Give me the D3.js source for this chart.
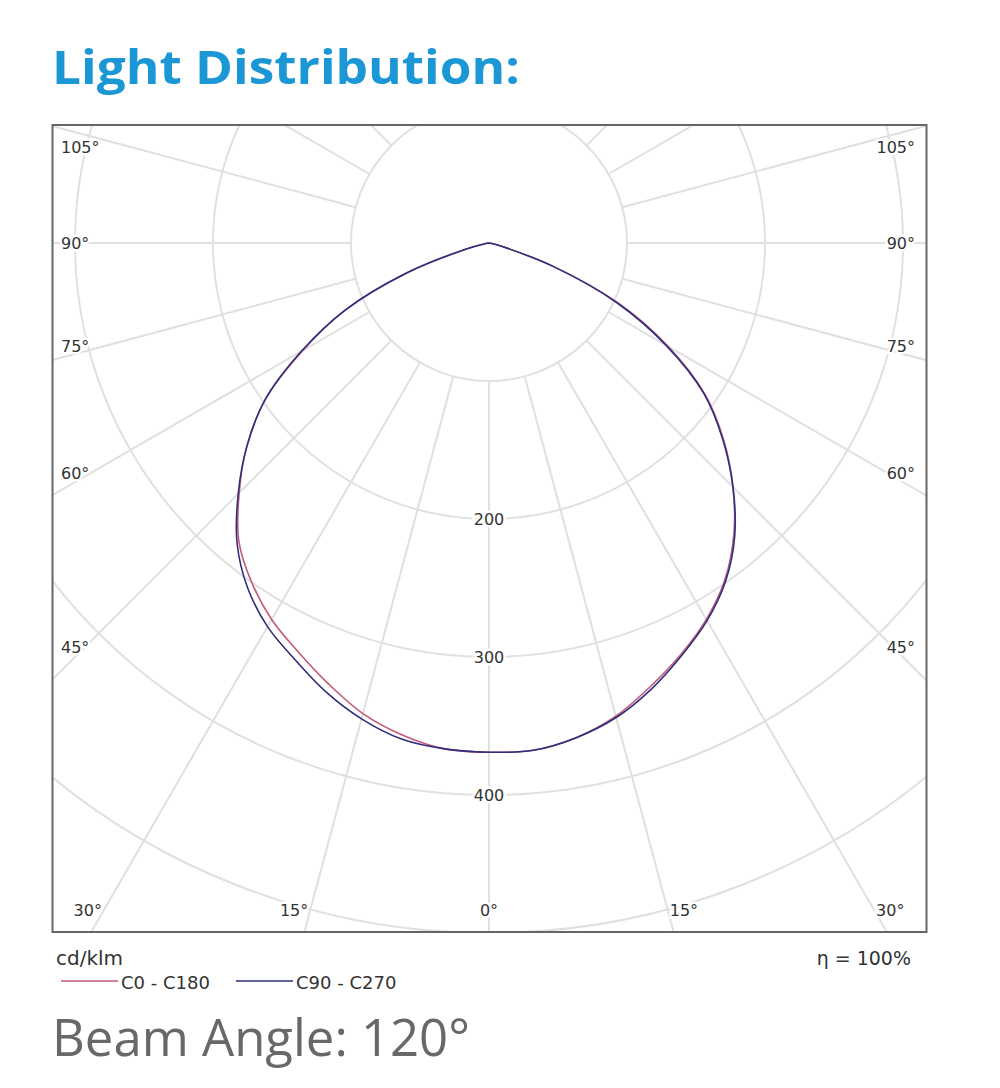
<!DOCTYPE html>
<html>
<head>
<meta charset="utf-8">
<script src="https://cdn.jsdelivr.net/npm/d3@7"></script>
<style>
  body { margin: 0; background: #fff; }
  svg { display: block; }
</style>
</head>
<body>
<svg id="chart" width="1000" height="1088"></svg>
<script>
// ---------------- DATA (cd/klm) ----------------
const gammaAngles = [0, 5, 10, 15, 20, 25, 30, 35, 40, 45, 50, 55, 60, 65, 70, 75, 80, 85, 90];
// C0 - C180 plane (C180 drawn on the left half, C0 on the right half)
const c180Values  = [369, 368, 362, 353, 340, 327, 315, 300, 282, 256, 229, 198, 156, 115, 63, 17, 3, 0, 0];
const c0Values    = [369, 369, 364, 355, 342, 329, 315, 298, 276, 250, 222, 191, 150, 104, 50, 10, 2, 0, 0];
// C90 - C270 plane (C270 drawn on the left half, C90 on the right half)
const c270Values  = [369, 368, 365, 357, 346, 333, 321, 305, 284, 257, 229, 198, 157, 115, 64, 18, 3, 0, 0];
const c90Values   = [369, 369, 364, 356, 344, 330, 316, 299, 277, 250, 221, 190, 148, 102, 49, 10, 2, 0, 0];

const seriesNames  = ["C0 - C180", "C90 - C270"];
const seriesColors = ["#c25a78", "#2e2f7e"];

const gridCircles   = [100, 200, 300, 400, 500, 600];
const radialLabels  = [200, 300, 400];
const gridAngles    = [0, 15, 30, 45, 60, 75, 90, 105, 120, 135, 150, 165, 180,
                       195, 210, 225, 240, 255, 270, 285, 300, 315, 330, 345];
const sideLabelAngles   = [45, 60, 75, 90, 105];
const bottomLabelAngles = [0, 15, 30];

const titleText = "Light Distribution:";
const unitText  = "cd/klm";
const etaText   = "\u03B7 = 100%";
const beamText  = "Beam Angle: 120\u00B0";

// ---------------- LAYOUT ----------------
const svg = d3.select("#chart");
const box = { x0: 52.5, y0: 125, x1: 926.5, y1: 932 };
const cx = 489, cy = 243;
const r = d3.scaleLinear().domain([0, 100]).range([0, 138]);
const toRad = d => d * Math.PI / 180;
const labelFont = "'DejaVu Sans', sans-serif";

svg.append("defs").append("clipPath").attr("id", "plotClip")
  .append("rect")
  .attr("x", box.x0).attr("y", box.y0)
  .attr("width", box.x1 - box.x0).attr("height", box.y1 - box.y0);

// Title
svg.append("text")
  .attr("x", 52).attr("y", 84)
  .attr("font-family", "'Open Sans', 'DejaVu Sans', sans-serif")
  .attr("font-weight", 700)
  .attr("font-size", 47)
  .attr("fill", "#1b97d5")
  .attr("textLength", 468)
  .attr("lengthAdjust", "spacingAndGlyphs")
  .text(titleText);

const plot = svg.append("g").attr("clip-path", "url(#plotClip)");
const g = plot.append("g").attr("transform", `translate(${cx},${cy})`);

// Grid circles
g.selectAll("circle.grid")
  .data(gridCircles)
  .join("circle")
  .attr("class", "grid")
  .attr("r", d => r(d))
  .attr("fill", "none")
  .attr("stroke", "#e0e0e0")
  .attr("stroke-width", 2);

// Radial grid lines (start from the innermost circle)
g.selectAll("line.spoke")
  .data(gridAngles)
  .join("line")
  .attr("class", "spoke")
  .attr("x1", d => r(gridCircles[0]) * Math.sin(toRad(d)))
  .attr("y1", d => r(gridCircles[0]) * Math.cos(toRad(d)))
  .attr("x2", d => r(900) * Math.sin(toRad(d)))
  .attr("y2", d => r(900) * Math.cos(toRad(d)))
  .attr("stroke", "#e0e0e0")
  .attr("stroke-width", 2);

// Radial value labels along 0°
g.selectAll("text.rlabel")
  .data(radialLabels)
  .join("text")
  .attr("class", "rlabel")
  .attr("x", 0)
  .attr("y", d => r(d))
  .attr("text-anchor", "middle")
  .attr("dominant-baseline", "central")
  .attr("font-family", labelFont)
  .attr("font-size", 16)
  .attr("fill", "#333")
  .attr("stroke", "#fff")
  .attr("stroke-width", 5)
  .attr("paint-order", "stroke")
  .text(d => d);

// Curves
function buildPoints(leftVals, rightVals) {
  const pts = [];
  for (let i = gammaAngles.length - 1; i >= 1; i--) pts.push({ a: Math.PI + toRad(gammaAngles[i]), v: leftVals[i] });
  for (let i = 0; i < gammaAngles.length; i++) pts.push({ a: Math.PI - toRad(gammaAngles[i]), v: rightVals[i] });
  return pts;
}
const lineGen = d3.lineRadial()
  .angle(d => d.a)
  .radius(d => r(d.v))
  .curve(d3.curveCatmullRom.alpha(0.5));

const series = [
  { name: seriesNames[0], color: seriesColors[0], pts: buildPoints(c180Values, c0Values) },
  { name: seriesNames[1], color: seriesColors[1], pts: buildPoints(c270Values, c90Values) }
];
g.selectAll("path.curve")
  .data(series)
  .join("path")
  .attr("class", "curve")
  .attr("d", d => lineGen(d.pts))
  .attr("fill", "none")
  .attr("stroke", d => d.color)
  .attr("stroke-width", 1.6);

// Angle labels
const sideDx = 411;
const bottomY = 910;
const angleLabels = [];
sideLabelAngles.forEach(a => {
  const yLine = cy + sideDx / Math.tan(toRad(a));
  const yT = a < 90 ? yLine - 7 : (a > 90 ? yLine + 15 : yLine);
  angleLabels.push({ x: 61, y: yT, anchor: "start", t: a + "\u00B0" });
  angleLabels.push({ x: 915, y: yT, anchor: "end", t: a + "\u00B0" });
});
bottomLabelAngles.forEach(a => {
  const dxL = (bottomY - cy) * Math.tan(toRad(a));
  if (a === 0) {
    angleLabels.push({ x: cx, y: bottomY, anchor: "middle", t: a + "\u00B0" });
  } else {
    angleLabels.push({ x: cx - dxL - 2, y: bottomY, anchor: "end", t: a + "\u00B0" });
    angleLabels.push({ x: cx + dxL + 2, y: bottomY, anchor: "start", t: a + "\u00B0" });
  }
});
svg.append("g").selectAll("text")
  .data(angleLabels)
  .join("text")
  .attr("x", d => d.x)
  .attr("y", d => d.y)
  .attr("text-anchor", d => d.anchor)
  .attr("dominant-baseline", "central")
  .attr("font-family", labelFont)
  .attr("font-size", 16)
  .attr("fill", "#333")
  .attr("stroke", "#fff")
  .attr("stroke-width", 5)
  .attr("paint-order", "stroke")
  .text(d => d.t);

// Frame
svg.append("rect")
  .attr("x", box.x0).attr("y", box.y0)
  .attr("width", box.x1 - box.x0).attr("height", box.y1 - box.y0)
  .attr("fill", "none")
  .attr("stroke", "#666")
  .attr("stroke-width", 2);

// Unit + efficiency
svg.append("text")
  .attr("x", 56).attr("y", 965)
  .attr("font-family", labelFont).attr("font-size", 20).attr("fill", "#333")
  .text(unitText);
svg.append("text")
  .attr("x", 911).attr("y", 965)
  .attr("text-anchor", "end")
  .attr("font-family", labelFont).attr("font-size", 19).attr("fill", "#333")
  .text(etaText);

// Legend
const legend = svg.append("g").attr("transform", "translate(61,981)");
const legendItems = legend.selectAll("g")
  .data(series)
  .join("g")
  .attr("transform", (d, i) => `translate(${i * 175},0)`);
legendItems.append("line")
  .attr("x1", 0).attr("x2", 57)
  .attr("y1", 0).attr("y2", 0)
  .attr("stroke", d => d.color)
  .attr("stroke-width", 1.5);
legendItems.append("text")
  .attr("x", 60).attr("y", 1)
  .attr("dominant-baseline", "central")
  .attr("font-family", labelFont).attr("font-size", 18).attr("fill", "#333")
  .text(d => d.name);

// Beam angle
svg.append("text")
  .attr("x", 52).attr("y", 1056)
  .attr("font-family", "'Open Sans', 'DejaVu Sans', sans-serif")
  .attr("font-size", 52)
  .attr("fill", "#686868")
  .attr("textLength", 418)
  .attr("lengthAdjust", "spacingAndGlyphs")
  .text(beamText);
</script>
</body>
</html>
